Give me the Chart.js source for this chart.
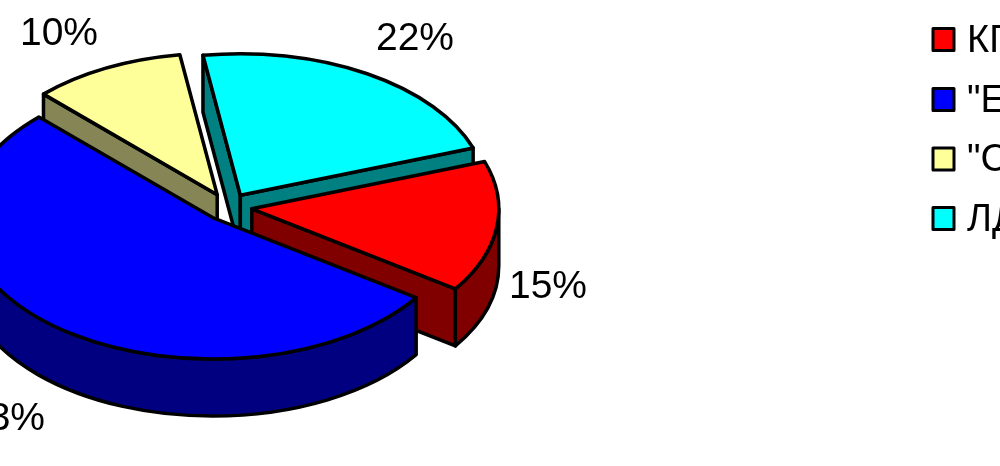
<!DOCTYPE html>
<html>
<head>
<meta charset="utf-8">
<style>
  html, body { margin: 0; padding: 0; background: #fff; overflow: hidden; }
</style>
<script src="https://cdn.jsdelivr.net/npm/chart.js@4"></script>
</head>
<body>
<canvas id="myChart" width="1000" height="466" style="display:block"></canvas>
<script>
const partidos = ['КПРФ', '"Единая Россия"', '"Справедливая Россия"', 'ЛДПР'];
const porcentajes = [15, 53, 10, 22];
const colores = ['#ff0000', '#0000ff', '#ffff99', '#00ffff'];
const coloresLado = ['#800000', '#000080', '#858555', '#008080'];

// pie tilt and placement
const centroX = 228, centroY = 207;
const aplastar = 0.573;
const radio = 247;
const separacion = 24;
const profundidad = 57;
const ordenLados = [2, 3, 0, 1]; // back to front
const etiquetasXY = [[548, 287], [6, 419], [59, 34], [415, 39]];
const legendaFilas = [39.5, 99.5, 159, 218.5];

let baseX = 0, baseY = 0;

const geometria = (el) => ({
  x: centroX + (el.x - baseX),
  y: centroY + (el.y - baseY) * aplastar,
  ini: el.startAngle,
  fin: el.endAngle,
  ry: radio * aplastar
});

const punto = (g, a) => [g.x + radio * Math.cos(a), g.y + g.ry * Math.sin(a)];

const pintar = (ctx, relleno) => {
  ctx.closePath();
  ctx.fillStyle = relleno;
  ctx.fill();
  ctx.stroke();
};

const caraRecta = (ctx, g, a, relleno) => {
  const p = punto(g, a);
  ctx.beginPath();
  ctx.moveTo(g.x, g.y);
  ctx.lineTo(p[0], p[1]);
  ctx.lineTo(p[0], p[1] + profundidad);
  ctx.lineTo(g.x, g.y + profundidad);
  pintar(ctx, relleno);
};

const caraCurva = (ctx, g, a0, a1, relleno) => {
  const p0 = punto(g, a0);
  const p1 = punto(g, a1);
  ctx.beginPath();
  ctx.ellipse(g.x, g.y, radio, g.ry, 0, a0, a1);
  ctx.lineTo(p1[0], p1[1] + profundidad);
  ctx.ellipse(g.x, g.y + profundidad, radio, g.ry, 0, a1, a0, true);
  ctx.lineTo(p0[0], p0[1]);
  pintar(ctx, relleno);
};

const pie3d = {
  id: 'pie3d',
  afterDatasetsUpdate(chart) {
    // pull every slice out along its middle angle
    const arcos = chart.getDatasetMeta(0).data;
    baseX = arcos[0].x;
    baseY = arcos[0].y;
    arcos.forEach((el) => {
      const medio = (el.startAngle + el.endAngle) / 2;
      el.x = baseX + separacion * Math.cos(medio);
      el.y = baseY + separacion * Math.sin(medio);
    });
  },
  beforeDatasetsDraw(chart) {
    const ctx = chart.ctx;
    const arcos = chart.getDatasetMeta(0).data;
    ctx.save();
    ctx.strokeStyle = '#000';
    ctx.lineWidth = 3.5;
    ctx.lineJoin = 'round';
    ordenLados.forEach((i) => {
      const g = geometria(arcos[i]);
      // only the faces turned to the viewer
      if (Math.cos(g.ini) < 0) caraRecta(ctx, g, g.ini, coloresLado[i]);
      if (Math.cos(g.fin) > 0) caraRecta(ctx, g, g.fin, coloresLado[i]);
      const a0 = Math.max(g.ini, 0);
      const a1 = Math.min(g.fin, Math.PI);
      if (a1 > a0) caraCurva(ctx, g, a0, a1, coloresLado[i]);
    });
    ctx.restore();

    // the library draws the top faces squashed
    ctx.save();
    ctx.translate(centroX, centroY);
    ctx.scale(1, aplastar);
    ctx.translate(-baseX, -baseY);
  },
  afterDatasetsDraw(chart) {
    const ctx = chart.ctx;
    ctx.restore();
    const arcos = chart.getDatasetMeta(0).data;
    ctx.save();
    ctx.strokeStyle = '#000';
    ctx.lineWidth = 3.5;
    ctx.lineJoin = 'round';
    arcos.forEach((el) => {
      const g = geometria(el);
      ctx.beginPath();
      ctx.moveTo(g.x, g.y);
      ctx.ellipse(g.x, g.y, radio, g.ry, 0, g.ini, g.fin);
      ctx.closePath();
      ctx.stroke();
    });
    ctx.fillStyle = '#000';
    ctx.font = '39px "Liberation Sans"';
    ctx.textAlign = 'center';
    ctx.textBaseline = 'middle';
    porcentajes.forEach((v, i) => {
      ctx.fillText(v + '%', etiquetasXY[i][0], etiquetasXY[i][1]);
    });

    // legend, it runs off the right edge like the original
    ctx.textAlign = 'left';
    ctx.textBaseline = 'alphabetic';
    ctx.font = '38px "Liberation Sans"';
    ctx.lineWidth = 3;
    partidos.forEach((t, i) => {
      const y = legendaFilas[i];
      ctx.fillStyle = colores[i];
      ctx.fillRect(933, y - 11, 21, 22);
      ctx.strokeRect(933, y - 11, 21, 22);
      ctx.fillStyle = '#000';
      ctx.fillText(t, 967, y + 12);
    });
    ctx.restore();
  }
};

new Chart(document.getElementById('myChart'), {
  type: 'pie',
  data: {
    labels: partidos,
    datasets: [{
      data: porcentajes,
      backgroundColor: colores,
      borderWidth: 0,
      clip: false
    }]
  },
  options: {
    responsive: false,
    animation: false,
    radius: radio,
    rotation: 70.5,
    plugins: {
      tooltip: { enabled: false },
      legend: { display: false }
    }
  },
  plugins: [pie3d]
});
</script>
</body>
</html>
